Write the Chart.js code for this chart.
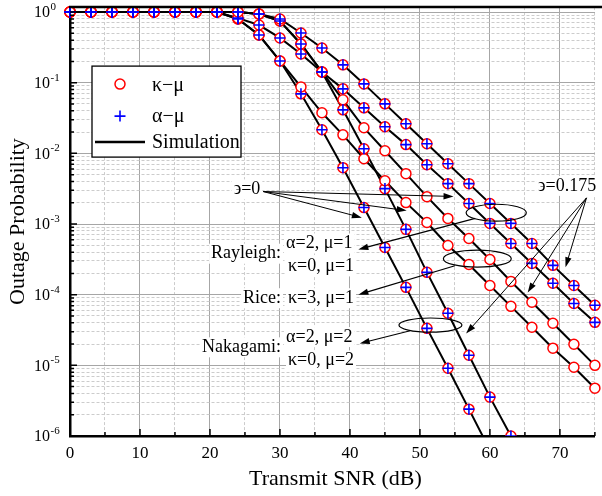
<!DOCTYPE html>
<html>
<head>
<meta charset="utf-8">
<script src="https://cdn.jsdelivr.net/npm/chart.js@4"></script>
<style>
  html, body { margin: 0; padding: 0; background: #fff; }
  #wrap { width: 602px; height: 496px; }
</style>
</head>
<body>
<div id="wrap"><canvas id="outageChart" width="602" height="496"></canvas></div>
<script>
// Transmit SNR (dB) of every marker
const snr = [0, 3, 6, 9, 12, 15, 18, 21, 24, 27, 30, 33, 36, 39, 42, 45, 48, 51, 54, 57, 60, 63, 66, 69, 72, 75];

// outage probability
const rayleighE175 = [1, 1, 1, 1, 1, 1, 1, 1, 1, 0.937, 0.797, 0.505, 0.31, 0.179, 0.0962, 0.0502, 0.0262, 0.0137, 0.00714, 0.00373, 0.00195, 0.00102, 5.3e-4, 2.6e-4, 1.35e-4, 7.07e-5];
const rayleighE0 = [1, 1, 1, 1, 1, 1, 1, 1, 0.82, 0.655, 0.43, 0.255, 0.142, 0.0818, 0.0441, 0.0238, 0.0133, 0.0069, 0.00373, 0.00195, 0.00102, 5.3e-4, 2.77e-4, 1.45e-4, 7.5e-5, 4.06e-5];
const riceE175 = [1, 1, 1, 1, 1, 1, 1, 1, 1, 0.937, 0.746, 0.353, 0.142, 0.0572, 0.023, 0.0109, 0.00516, 0.00244, 0.0012, 6.24e-4, 3.15e-4, 1.54e-4, 7.8e-5, 3.94e-5, 1.99e-5, 1.0e-5];
const riceE0 = [1, 1, 1, 1, 1, 1, 1, 1, 0.797, 0.473, 0.203, 0.0873, 0.0375, 0.0183, 0.0084, 0.0041, 0.00201, 0.00105, 4.97e-4, 2.68e-4, 1.35e-4, 6.84e-5, 3.46e-5, 1.75e-5, 9.4e-6, 4.75e-6];
const nakagamiE175 = [1, 1, 1, 1, 1, 1, 1, 1, 1, 0.937, 0.746, 0.353, 0.142, 0.0413, 0.0116, 0.00317, 8.4e-4, 2.07e-4, 5.45e-5, 1.39e-5, 3.55e-6, 1.0e-6, null, null, null, null];
const nakagamiE0 = [1, 1, 1, 1, 1, 1, 1, 1, 0.797, 0.473, 0.203, 0.0696, 0.0216, 0.00627, 0.00171, 4.66e-4, 1.27e-4, 3.34e-5, 9.1e-6, 2.4e-6, 6.3e-7, null, null, null, null, null];

const xTickLabels = [0, 10, 20, 30, 40, 50, 60, 70];
const yTickExps = [0, -1, -2, -3, -4, -5, -6];

const SERIF = '"Liberation Serif", "Times New Roman", "DejaVu Serif", serif';
const MAJOR_GRID = '#a6a6a6';
const MINOR_GRID = '#cccccc';

function pts(vals) {
  return snr.map((x, i) => ({ x: x, y: vals[i] })).filter(p => p.y != null);
}

// alpha: true when the alpha-mu marker sits on the curve as well
const curves = [
  { vals: rayleighE175, alpha: true },
  { vals: rayleighE0, alpha: true },
  { vals: riceE175, alpha: false },
  { vals: riceE0, alpha: false },
  { vals: nakagamiE175, alpha: true },
  { vals: nakagamiE0, alpha: true }
];

const datasets = [];
curves.forEach(c => {
  datasets.push({
    data: pts(c.vals), borderColor: '#000', borderWidth: 2, pointRadius: 0,
    showLine: true, order: 3, clip: { left: 2, right: 2, top: 4, bottom: 0 }
  });
  datasets.push({
    data: pts(c.vals), showLine: false, pointStyle: 'circle', pointRadius: 5,
    pointBorderColor: '#ff0000', pointBackgroundColor: '#fff', pointBorderWidth: 1.5,
    order: 2, clip: { left: 8, right: 8, top: 8, bottom: 0 }
  });
  if (c.alpha) {
    datasets.push({
      data: pts(c.vals), showLine: false, pointStyle: 'cross', pointRadius: 5.5,
      pointBorderColor: '#0000ff', pointBorderWidth: 1.6,
      order: 1, clip: { left: 8, right: 8, top: 8, bottom: 0 }
    });
  }
});

function isDecade(v) {
  const l = Math.log10(v);
  return Math.abs(l - Math.round(l)) < 1e-6;
}

// annotation anchors as [SNR dB, log10(probability)]
const notes = {
  e0Text: [27.2, -2.51], e0From: [27.6, -2.54],
  e0Tips: [[54.8, -2.61], [48.1, -2.81], [41.7, -2.91]],
  e175Text: [66.9, -2.46], e175From: [73.8, -2.63],
  e175Tips: [[70.8, -3.61], [65.4, -3.97], [56.6, -4.55]],
  ellipses: [
    { c: [60.9, -2.84], rx: 4.3, ry: 0.12, from: [57.9, -2.92], tip: [41.2, -3.36] },
    { c: [58.2, -3.49], rx: 4.85, ry: 0.12, from: [55.0, -3.59], tip: [41.2, -4.0] },
    { c: [51.5, -4.43], rx: 4.5, ry: 0.1, from: [48.6, -4.51], tip: [41.4, -4.69] }
  ]
};

function arrow(ctx, x1, y1, x2, y2) {
  const ang = Math.atan2(y2 - y1, x2 - x1);
  const len = 10, half = 3.2;
  ctx.beginPath();
  ctx.moveTo(x1, y1);
  ctx.lineTo(x2 - len * Math.cos(ang) * 0.8, y2 - len * Math.sin(ang) * 0.8);
  ctx.stroke();
  ctx.beginPath();
  ctx.moveTo(x2, y2);
  ctx.lineTo(x2 - len * Math.cos(ang) + half * Math.sin(ang), y2 - len * Math.sin(ang) - half * Math.cos(ang));
  ctx.lineTo(x2 - len * Math.cos(ang) - half * Math.sin(ang), y2 - len * Math.sin(ang) + half * Math.cos(ang));
  ctx.closePath();
  ctx.fill();
}

function boxedText(ctx, text, px, py, align) {
  const w = ctx.measureText(text).width;
  const x0 = align === 'right' ? px - w : px;
  ctx.fillStyle = '#fff';
  ctx.fillRect(x0 - 2, py - 10, w + 4, 20);
  ctx.fillStyle = '#000';
  ctx.textAlign = align;
  ctx.fillText(text, px, py);
}

const overlay = {
  id: 'overlay',
  afterDraw(chart) {
    const { ctx, chartArea: a, scales: { x, y } } = chart;
    const P = (p) => [x.getPixelForValue(p[0]), y.getPixelForValue(Math.pow(10, p[1]))];
    ctx.save();

    // top frame
    ctx.strokeStyle = '#000';
    ctx.lineWidth = 2.5;
    ctx.beginPath();
    ctx.moveTo(a.left - 1, a.top);
    ctx.lineTo(chart.width, a.top);
    ctx.stroke();

    // inward ticks
    ctx.lineWidth = 1.5;
    ctx.beginPath();
    x.ticks.forEach(t => {
      const px = x.getPixelForValue(t.value);
      const len = t.value % 10 === 0 ? 7 : 4;
      ctx.moveTo(px, a.bottom);
      ctx.lineTo(px, a.bottom - len);
    });
    y.ticks.forEach(t => {
      const py = y.getPixelForValue(t.value);
      const len = isDecade(t.value) ? 7 : 4;
      ctx.moveTo(a.left, py);
      ctx.lineTo(a.left + len, py);
    });
    ctx.stroke();

    // tick labels
    ctx.fillStyle = '#000';
    ctx.textBaseline = 'middle';
    ctx.textAlign = 'center';
    ctx.font = '17px ' + SERIF;
    xTickLabels.forEach(v => ctx.fillText(String(v), x.getPixelForValue(v), a.bottom + 18));
    yTickExps.forEach(e => {
      const py = y.getPixelForValue(Math.pow(10, e));
      ctx.font = '16px ' + SERIF;
      ctx.textAlign = 'right';
      ctx.fillText('10', a.left - 20, py + 1);
      ctx.font = '11px ' + SERIF;
      ctx.textAlign = 'left';
      ctx.fillText(e === 0 ? '0' : '-' + (-e), a.left - 19.5, py - 5);
    });

    // axis titles
    ctx.font = '22px ' + SERIF;
    ctx.textAlign = 'center';
    ctx.fillText('Transmit SNR (dB)', (a.left + a.right) / 2 + 3, a.bottom + 43);
    ctx.save();
    ctx.translate(18, (a.top + a.bottom) / 2);
    ctx.rotate(-Math.PI / 2);
    ctx.fillText('Outage Probability', 0, 0);
    ctx.restore();

    // legend
    const lx = a.left + 22, ly = a.top + 59;
    ctx.fillStyle = '#fff';
    ctx.fillRect(lx, ly, 149, 91);
    ctx.strokeStyle = '#000';
    ctx.lineWidth = 1.3;
    ctx.strokeRect(lx, ly, 149, 91);
    ctx.lineWidth = 1.5;
    ctx.strokeStyle = '#ff0000';
    ctx.beginPath();
    ctx.arc(lx + 28, ly + 18, 5, 0, Math.PI * 2);
    ctx.stroke();
    ctx.strokeStyle = '#0000ff';
    ctx.lineWidth = 1.6;
    ctx.beginPath();
    ctx.moveTo(lx + 22.5, ly + 50); ctx.lineTo(lx + 33.5, ly + 50);
    ctx.moveTo(lx + 28, ly + 44.5); ctx.lineTo(lx + 28, ly + 55.5);
    ctx.stroke();
    ctx.strokeStyle = '#000';
    ctx.lineWidth = 2.5;
    ctx.beginPath();
    ctx.moveTo(lx + 3, ly + 76); ctx.lineTo(lx + 53, ly + 76);
    ctx.stroke();
    ctx.fillStyle = '#000';
    ctx.font = '20px ' + SERIF;
    ctx.textAlign = 'left';
    ctx.fillText('\u03ba\u2212\u03bc', lx + 60, ly + 20);
    ctx.fillText('\u03b1\u2212\u03bc', lx + 60, ly + 51);
    ctx.fillText('Simulation', lx + 60, ly + 77);

    // parameter labels
    ctx.font = '18px ' + SERIF;
    const lab = (txt, p, align) => { const q = P(p); boxedText(ctx, txt, q[0], q[1], align); };
    lab('Rayleigh:', [30.16, -3.42], 'right');
    lab('\u03b1=2, \u03bc=1', [30.87, -3.275], 'left');
    lab('\u03ba=0, \u03bc=1', [31.15, -3.6], 'left');
    lab('Rice:', [30.16, -4.05], 'right');
    lab('\u03ba=3, \u03bc=1', [31.15, -4.05], 'left');
    lab('Nakagami:', [30.16, -4.745], 'right');
    lab('\u03b1=2, \u03bc=2', [30.87, -4.6], 'left');
    lab('\u03ba=0, \u03bc=2', [31.15, -4.93], 'left');
    lab('\u03f6=0', notes.e0Text, 'right');
    lab('\u03f6=0.175', notes.e175Text, 'left');

    // arrows and ellipses
    ctx.strokeStyle = '#000';
    ctx.fillStyle = '#000';
    ctx.lineWidth = 1;
    const f0 = P(notes.e0From);
    notes.e0Tips.forEach(t => { const q = P(t); arrow(ctx, f0[0], f0[1], q[0], q[1]); });
    const f1 = P(notes.e175From);
    notes.e175Tips.forEach(t => { const q = P(t); arrow(ctx, f1[0], f1[1], q[0], q[1]); });
    ctx.lineWidth = 1.2;
    notes.ellipses.forEach(el => {
      const c = P(el.c);
      const rx = x.getPixelForValue(el.c[0] + el.rx) - c[0];
      const ry = y.getPixelForValue(Math.pow(10, el.c[1] - el.ry)) - c[1];
      ctx.beginPath();
      ctx.ellipse(c[0], c[1], rx, ry, 0, 0, Math.PI * 2);
      ctx.stroke();
      const s = P(el.from), t = P(el.tip);
      arrow(ctx, s[0], s[1], t[0], t[1]);
    });

    ctx.restore();
  }
};

new Chart(document.getElementById('outageChart').getContext('2d'), {
  type: 'scatter',
  data: { datasets: datasets },
  options: {
    responsive: false,
    animation: false,
    layout: { padding: { top: 6, right: 5, left: 0, bottom: 0 } },
    plugins: { legend: { display: false }, tooltip: { enabled: false } },
    scales: {
      x: {
        type: 'linear', min: 0, max: 75,
        ticks: { stepSize: 5, display: false },
        grid: {
          drawTicks: false, lineWidth: 1,
          color: c => (c.tick && c.tick.value % 10 !== 0) ? MINOR_GRID : MAJOR_GRID
        },
        border: {
          display: true, color: '#000', width: 2.5,
          dash: c => (c.tick && c.tick.value % 10 !== 0) ? [3, 2] : []
        },
        afterFit: s => { s.height = 60; }
      },
      y: {
        type: 'logarithmic', min: 1e-6, max: 1.175,
        ticks: { display: false },
        afterBuildTicks: s => {
          const t = [];
          for (let e = -6; e < 0; e++) {
            for (let k = 1; k <= 9; k++) t.push({ value: k * Math.pow(10, e) });
          }
          t.push({ value: 1 });
          s.ticks = t;
        },
        grid: {
          drawTicks: false, lineWidth: 1,
          color: c => (c.tick && !isDecade(c.tick.value)) ? MINOR_GRID : MAJOR_GRID
        },
        border: {
          display: true, color: '#000', width: 2.5,
          dash: c => (c.tick && !isDecade(c.tick.value)) ? [3, 2] : []
        },
        afterFit: s => { s.width = 70; }
      }
    }
  },
  plugins: [overlay]
});
</script>
</body>
</html>
